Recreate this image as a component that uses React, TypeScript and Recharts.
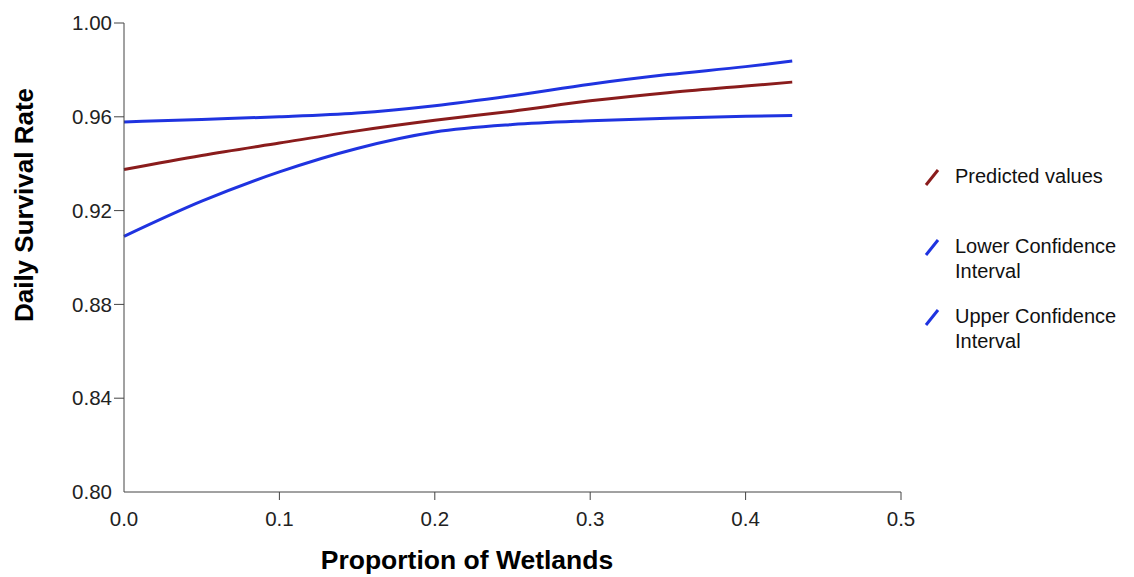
import { LineChart, Line, XAxis, YAxis, Legend, Label } from "recharts";

// values
const wetlands = [0, 0.05, 0.1, 0.15, 0.2, 0.25, 0.3, 0.35, 0.4, 0.43];
const predicted = [0.9375, 0.9435, 0.9488, 0.954, 0.9585, 0.9624, 0.9668, 0.9703, 0.9731, 0.9748];
const lowerCI = [0.909, 0.924, 0.9365, 0.9465, 0.9535, 0.9567, 0.9583, 0.9594, 0.9602, 0.9606];
const upperCI = [0.9578, 0.9589, 0.96, 0.9616, 0.9647, 0.969, 0.9739, 0.978, 0.9814, 0.9838];

const seriesNames = ["Predicted values", "Lower Confidence Interval", "Upper Confidence Interval"];

const xTicks = [0, 0.1, 0.2, 0.3, 0.4, 0.5];
const yTicks = [0.8, 0.84, 0.88, 0.92, 0.96, 1.0];

const data = wetlands.map((w, i) => ({
  wetlands: w,
  predicted: predicted[i],
  lower: lowerCI[i],
  upper: upperCI[i],
}));

const RED = "#8a1c1c";
const BLUE = "#1f33e0";
const AXIS = "#444";
const FONT = "'Liberation Sans', Arial, sans-serif";

function XTick(props: any) {
  const { x, y, payload } = props;
  return (
    <g>
      {payload.value !== 0 && (
        <line x1={x} x2={x} y1={y - 19} y2={y - 11} stroke={AXIS} />
      )}
      <text x={x} y={y} dy="0.71em" textAnchor="middle" fill="#222" fontSize={20.5} fontFamily={FONT}>
        {payload.value.toFixed(1)}
      </text>
    </g>
  );
}

function YTick(props: any) {
  const { x, y, payload } = props;
  return (
    <g>
      {payload.value !== 0.8 && (
        <line x1={x + 2} x2={x + 12} y1={y} y2={y} stroke={AXIS} />
      )}
      <text x={x} y={y} dy="0.355em" textAnchor="end" fill="#222" fontSize={20.5} fontFamily={FONT}>
        {payload.value.toFixed(2)}
      </text>
    </g>
  );
}

function LegendBox(props: any) {
  const items = [...(props.payload || [])].sort(
    (a: any, b: any) => seriesNames.indexOf(a.value) - seriesNames.indexOf(b.value)
  );
  return (
    <div style={{ fontFamily: FONT, fontSize: 20, color: "#111", lineHeight: "25px" }}>
      {items.map((it: any) => (
        <div key={it.value} style={{ display: "flex", height: 70 }}>
          <svg width={16} height={18} style={{ marginTop: 4, marginLeft: 2, marginRight: 15, flexShrink: 0 }}>
            <line x1={2} y1={17} x2={14} y2={2} stroke={it.color} strokeWidth={3} />
          </svg>
          <div style={{ width: 178 }}>{it.value}</div>
        </div>
      ))}
    </div>
  );
}

export default function App() {
  return (
    <div style={{ position: "absolute", left: 0, top: 0, background: "#fff" }}>
      <LineChart
        width={1134}
        height={577}
        data={data}
        margin={{ top: 23, right: 233, bottom: 55, left: 64 }}
      >
        <XAxis
          dataKey="wetlands"
          type="number"
          domain={[0, 0.5]}
          ticks={xTicks}
          tick={<XTick />}
          tickLine={false}
          tickSize={8}
          tickMargin={11}
          height={30}
          stroke={AXIS}
        >
          <Label
            content={() => (
              <text x={467} y={569} textAnchor="middle" fontSize={26.5} fontWeight="bold" fontFamily={FONT} fill="#000">
                Proportion of Wetlands
              </text>
            )}
          />
        </XAxis>
        <YAxis
          type="number"
          domain={[0.8, 1.0]}
          ticks={yTicks}
          tick={<YTick />}
          tickLine={false}
          tickSize={10}
          tickMargin={2}
          width={60}
          stroke={AXIS}
        >
          <Label
            content={() => (
              <text
                x={33}
                y={205}
                transform="rotate(-90 33 205)"
                textAnchor="middle"
                fontSize={26}
                fontWeight="bold"
                fontFamily={FONT}
                fill="#000"
              >
                Daily Survival Rate
              </text>
            )}
          />
        </YAxis>
        <Legend
          layout="vertical"
          align="center"
          verticalAlign="middle"
          content={<LegendBox />}
          wrapperStyle={{ left: 922, top: 164, width: 212 }}
        />
        <Line name={seriesNames[0]} dataKey="predicted" type="monotone" stroke={RED} strokeWidth={3} dot={false} isAnimationActive={false} />
        <Line name={seriesNames[1]} dataKey="lower" type="monotone" stroke={BLUE} strokeWidth={3} dot={false} isAnimationActive={false} />
        <Line name={seriesNames[2]} dataKey="upper" type="monotone" stroke={BLUE} strokeWidth={3} dot={false} isAnimationActive={false} />
      </LineChart>
    </div>
  );
}
